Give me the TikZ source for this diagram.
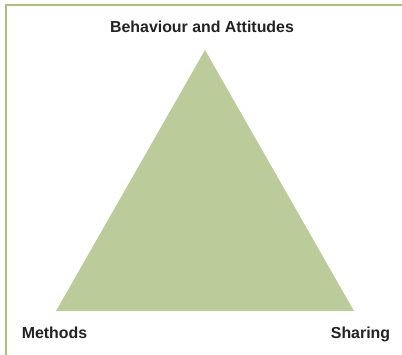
\documentclass[tikz,border=0pt]{standalone}
\usepackage{fontspec}
\setmainfont{Liberation Sans}
\definecolor{framegreen}{HTML}{A9C07E}
\definecolor{trifill}{HTML}{BCCB9A}
\definecolor{txt}{HTML}{222222}
\begin{document}
\begin{tikzpicture}[x=1pt,y=-1pt,
  lbl/.style={font=\fontsize{15.9}{18}\selectfont\bfseries, text=txt, inner sep=0pt, anchor=base}]
\useasboundingbox (0,0) rectangle (402,355);
\draw[framegreen, line width=1.2pt] (6,355) -- (6,5) -- (402,5);
\coordinate (apex) at (205,50);
\coordinate (bl) at (56,311);
\coordinate (br) at (354,311);
\fill[trifill] (apex) -- (bl) -- (br) -- cycle;
\node[lbl] (top) at (202,33) {Behaviour and Attitudes};
\node[lbl] (m) at (54.5,338.3) {Methods};
\node[lbl] (s) at (360.5,338.3) {Sharing};
\end{tikzpicture}
\end{document}
